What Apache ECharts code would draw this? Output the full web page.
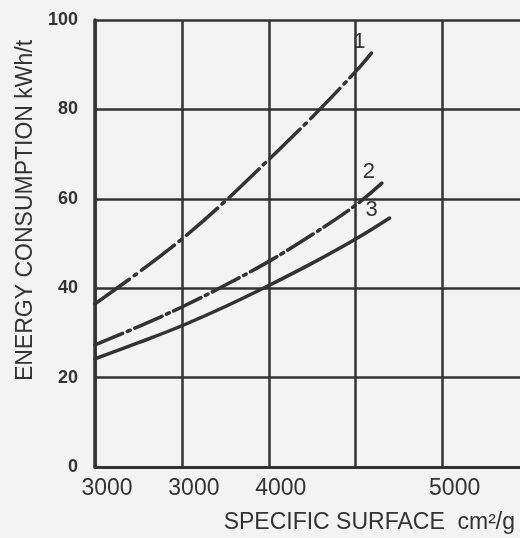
<!DOCTYPE html>
<html>
<head>
<meta charset="utf-8">
<script src="https://cdn.jsdelivr.net/npm/echarts@6/dist/echarts.min.js"></script>
<style>
  html, body { margin: 0; padding: 0; background: #f3f3f3; }
  #chart { width: 520px; height: 538px; }
</style>
</head>
<body>
<div id="chart"></div>
<script>
// Specific surface (cm²/g) and energy consumption (kWh/t) for the three grinding curves
const curve1X = [3000, 3250, 3500, 3750, 4000, 4250, 4500, 4590];
const curve1Y = [36.5, 43.5, 51, 59.5, 68.8, 78.3, 88.5, 92.6];
const curve2X = [3000, 3250, 3500, 3750, 4000, 4250, 4500, 4650];
const curve2Y = [27.3, 31.4, 35.8, 40.7, 46.0, 52.0, 58.6, 63.5];
const curve3X = [3000, 3250, 3500, 3750, 4000, 4250, 4500, 4695];
const curve3Y = [24.2, 27.8, 31.6, 35.9, 40.6, 45.6, 51.0, 55.7];
const curveNames = ['1', '2', '3'];

// Axis tick positions and the labels printed under them
const xTicks = [3000, 3500, 4000, 4500, 5000];
const xTickLabels = ['3000', '3000', '4000', '', '5000'];
const yTickLabels = ['0', '20', '40', '60', '80', '100'];

const ink = '#333333';
const font = 'Liberation Sans, Arial, sans-serif';

function pairs(xs, ys) {
  return xs.map((x, i) => [x, ys[i]]);
}

function curve(name, xs, ys, dash, labelOffset) {
  return {
    name: name,
    type: 'line',
    data: pairs(xs, ys),
    smooth: 0.4,
    showSymbol: false,
    lineStyle: { color: ink, width: 3.5, type: dash, cap: 'round' },
    endLabel: {
      show: true,
      formatter: '{a}',
      align: 'center',
      verticalAlign: 'middle',
      distance: 0,
      offset: labelOffset,
      fontFamily: font,
      fontSize: 22,
      color: ink
    },
    silent: true,
    animation: false
  };
}

const chart = echarts.init(document.getElementById('chart'), null, { renderer: 'canvas' });
chart.setOption({
  backgroundColor: '#f3f3f3',
  animation: false,
  grid: { left: 95, top: 20, bottom: 71, right: 0 },
  xAxis: {
    type: 'value',
    min: 3000,
    max: 5445,
    interval: 500,
    name: 'SPECIFIC SURFACE  cm²/g',
    nameLocation: 'end',
    nameGap: -5,
    nameTextStyle: {
      fontFamily: font,
      fontSize: 23,
      color: ink,
      align: 'right',
      verticalAlign: 'top',
      padding: [44, 0, 0, 0]
    },
    axisLine: { show: true, lineStyle: { color: ink, width: 3 } },
    axisTick: { show: false },
    axisLabel: {
      margin: 10,
      fontFamily: font,
      fontSize: 23,
      color: ink,
      padding: [0, 0, 0, 24],
      showMaxLabel: false,
      formatter: v => {
        const i = xTicks.indexOf(v);
        return i >= 0 ? xTickLabels[i] : '';
      }
    },
    splitLine: { show: true, showMaxLine: false, lineStyle: { color: ink, width: 2.5 } }
  },
  yAxis: {
    type: 'value',
    min: 0,
    max: 100,
    interval: 20,
    name: 'ENERGY CONSUMPTION kWh/t',
    nameLocation: 'middle',
    nameGap: 57,
    nameTextStyle: {
      fontFamily: font,
      fontSize: 23,
      color: ink,
      padding: [0, 0, 0, 66]
    },
    axisLine: { show: true, lineStyle: { color: ink, width: 3.5 } },
    axisTick: { show: false },
    axisLabel: {
      margin: 17,
      fontFamily: font,
      fontSize: 18,
      fontWeight: 'bold',
      color: ink,
      formatter: v => yTickLabels[Math.round(v / 20)] || ''
    },
    splitLine: { show: true, lineStyle: { color: ink, width: 2.5 } }
  },
  series: [
    curve(curveNames[0], curve1X, curve1Y, [42, 6, 3, 6], [-12, -11]),
    curve(curveNames[1], curve2X, curve2Y, [30, 5, 3, 5], [-13, -11]),
    curve(curveNames[2], curve3X, curve3Y, 'solid', [-18, -8])
  ]
});
</script>
</body>
</html>
